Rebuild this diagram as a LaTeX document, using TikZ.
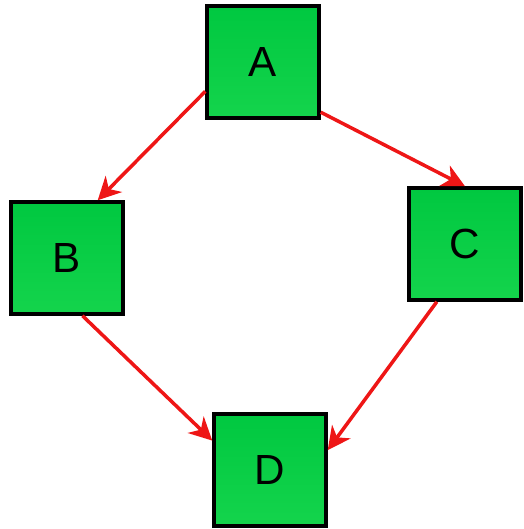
\documentclass[tikz,border=0pt]{standalone}
\usepackage{fontspec}
\setmainfont{Liberation Sans}
\usetikzlibrary{arrows.meta,positioning}
\definecolor{boxtop}{RGB}{0,200,64}
\definecolor{boxbot}{RGB}{20,212,76}
\definecolor{edgered}{RGB}{238,22,22}
\tikzset{
  vertex/.style={draw=black,line width=2pt,minimum width=2.24cm,minimum height=2.24cm,
    top color=boxtop,bottom color=boxbot,font=\fontsize{24}{28}\selectfont,inner sep=0pt},
  link/.style={draw=edgered,line width=2pt,-{Stealth[length=13pt,width=13pt,inset=4pt]}}
}
\begin{document}
\begin{tikzpicture}[x=0.02cm,y=-0.02cm]
		\useasboundingbox (0,0) rectangle (524,529);
		\node[vertex](A) at (263,62) {A};
		\node[vertex](B) at (67,258) {B};
		\node[vertex](C) at (465,244) {C};
		\node[vertex](D) at (270,470) {D};
		\path[link] (A.207) -- (B.62);
		\path[link] (A.-41) -- (C.north);
		\path[link] (B.-75) -- (D.153);
		\path[link] (C.-116) -- (D.19);
\end{tikzpicture}
\end{document}
